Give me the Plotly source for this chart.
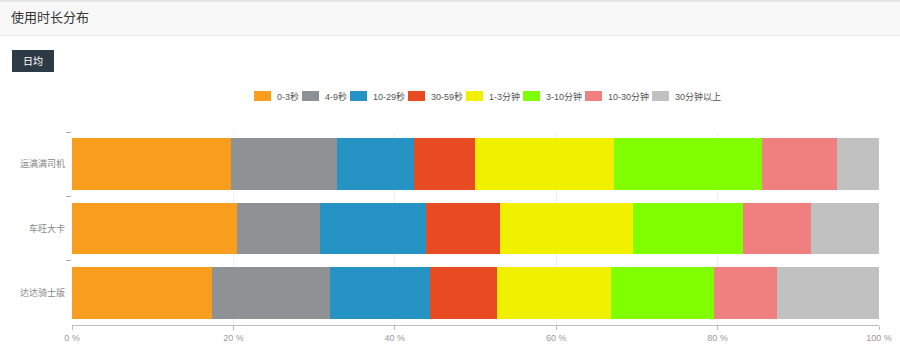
import plotly.graph_objects as go

categories = ["运满满司机", "车旺大卡", "达达骑士版"]
series_names = ["0-3秒", "4-9秒", "10-29秒", "30-59秒", "1-3分钟", "3-10分钟", "10-30分钟", "30分钟以上"]
series_colors = ["#F89D1E", "#8E9295", "#2594C4", "#E84B22", "#F0F000", "#7FFF00", "#F08080", "#C1C1C1"]
values_0_3s = [19.7, 20.4, 17.3]
values_4_9s = [13.1, 10.3, 14.7]
values_10_29s = [9.6, 13.2, 12.4]
values_30_59s = [7.5, 9.1, 8.3]
values_1_3m = [17.3, 16.5, 14.1]
values_3_10m = [18.3, 13.6, 12.8]
values_10_30m = [9.3, 8.5, 7.8]
values_30m_plus = [5.2, 8.4, 12.6]
series_values = [values_0_3s, values_4_9s, values_10_29s, values_30_59s,
                 values_1_3m, values_3_10m, values_10_30m, values_30m_plus]
x_tickvals = [0, 20, 40, 60, 80, 100]
x_ticktext = ["0 %", "20 %", "40 %", "60 %", "80 %", "100 %"]

W, H = 900, 352
ML, MR, MT, MB = 72, 21, 132, 27
PW, PH = W - ML - MR, H - MT - MB


def px_x(p):
    return (p - ML) / PW


def px_y(p):
    return (H - MB - p) / PH


FONT = "Liberation Sans, Noto Sans CJK SC, sans-serif"

fig = go.Figure()
for name, color, vals in zip(series_names, series_colors, series_values):
    fig.add_trace(go.Bar(
        y=categories, x=vals, name=name, orientation="h",
        marker=dict(color=color, line=dict(width=0)), width=0.8,
        showlegend=False,
    ))

shapes = []
annotations = []

# header panel
shapes.append(dict(type="rect", xref="paper", yref="paper",
                   x0=px_x(0), x1=px_x(W), y0=px_y(35), y1=px_y(0),
                   fillcolor="#F8F8F8", line=dict(width=0), layer="below"))
shapes.append(dict(type="line", xref="paper", yref="paper",
                   x0=px_x(0), x1=px_x(W), y0=px_y(1), y1=px_y(1),
                   line=dict(color="#E6E6E6", width=2)))
shapes.append(dict(type="line", xref="paper", yref="paper",
                   x0=px_x(0), x1=px_x(W), y0=px_y(35.5), y1=px_y(35.5),
                   line=dict(color="#EBEBEB", width=1)))
annotations.append(dict(text="使用时长分布", xref="paper", yref="paper",
                        x=px_x(9), y=px_y(17.5), xanchor="left", yanchor="middle",
                        showarrow=False, font=dict(family=FONT, size=13, color="#333333")))

# button
shapes.append(dict(type="rect", xref="paper", yref="paper",
                   x0=px_x(12), x1=px_x(54), y0=px_y(72), y1=px_y(50),
                   fillcolor="#2E3A44", line=dict(width=0)))
annotations.append(dict(text="日均", xref="paper", yref="paper",
                        x=px_x(33), y=px_y(61), xanchor="center", yanchor="middle",
                        showarrow=False, font=dict(family=FONT, size=10, color="#FFFFFF")))


# custom legend
def text_w(s):
    w = 0
    for ch in s:
        if ord(ch) > 127:
            w += 9
        elif ch == "-":
            w += 3
        else:
            w += 5
    return w


lx = 254
for name, color in zip(series_names, series_colors):
    shapes.append(dict(type="rect", xref="paper", yref="paper",
                       x0=px_x(lx), x1=px_x(lx + 17), y0=px_y(101), y1=px_y(91),
                       fillcolor=color, line=dict(width=0)))
    annotations.append(dict(text=name, xref="paper", yref="paper",
                            x=px_x(lx + 21), y=px_y(96.5), xanchor="left", yanchor="middle",
                            showarrow=False, font=dict(family=FONT, size=9, color="#555555")))
    lx += 21 + text_w(name) + 5

fig.update_layout(
    barmode="stack",
    width=W, height=H,
    margin=dict(l=ML, r=MR, t=MT, b=MB, pad=0, autoexpand=False),
    paper_bgcolor="#FFFFFF", plot_bgcolor="#FFFFFF",
    font=dict(family=FONT, size=9, color="#888888"),
    shapes=shapes, annotations=annotations,
    bargap=0.2,
)
fig.update_xaxes(range=[0, 100], tickmode="array", tickvals=x_tickvals, ticktext=x_ticktext,
                 showgrid=True, gridcolor="#F0F0F0", gridwidth=1,
                 showline=True, linecolor="#BBBBBB", linewidth=1,
                 ticks="outside", ticklen=4, tickcolor="#BBBBBB", automargin=False,
                 tickfont=dict(size=9, color="#999999"), zeroline=False, fixedrange=True)
fig.update_yaxes(autorange="reversed", showgrid=False, showline=False, automargin=False,
                 ticks="outside", tickson="boundaries", ticklen=5, tickcolor="#AAAAAA",
                 tickfont=dict(size=9, color="#888888"), ticklabelstandoff=6,
                 fixedrange=True)

fig.write_html("out.html", config={"displayModeBar": False})
